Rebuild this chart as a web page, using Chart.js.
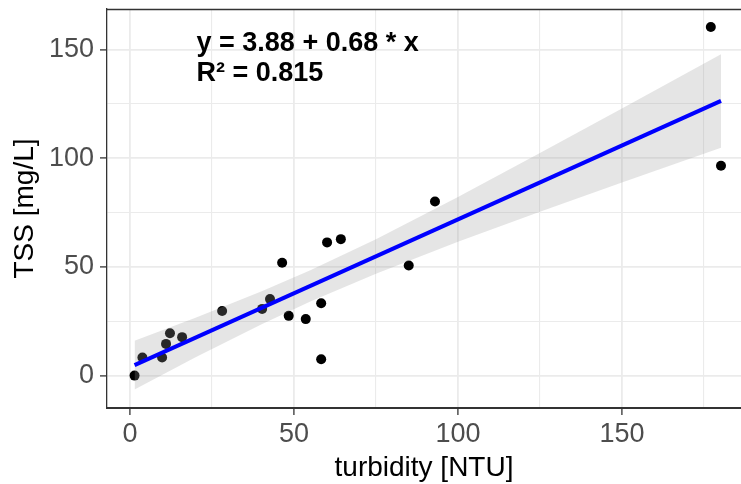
<!DOCTYPE html>
<html>
<head>
<meta charset="utf-8">
<script src="https://cdn.jsdelivr.net/npm/chart.js@4/dist/chart.umd.min.js"></script>
<style>
  html, body { margin: 0; padding: 0; background: #ffffff; overflow: hidden; }
  canvas { display: block; }
</style>
</head>
<body>
<canvas id="chart" width="741" height="484"></canvas>
<script>
// Observations: turbidity (NTU) vs total suspended solids (mg/L)
const turbidity = [1.4, 3.8, 9.8, 11.0, 12.2, 15.9, 28.1, 40.3, 42.7, 46.4,
                   48.4, 53.6, 58.3, 58.3, 60.1, 64.3, 85.0, 93.0, 177.1, 180.2];
const tss       = [0.0, 8.3, 8.3, 14.6, 19.5, 17.7, 29.7, 30.7, 35.2, 51.9,
                   27.5, 26.0, 33.3, 7.5, 61.3, 62.8, 50.7, 80.1, 160.4, 96.6];

// Linear fit as reported in the annotation
const fitIntercept = 3.88;
const fitSlope = 0.68;
const rSquared = 0.815;
const fitX = [1.4, 180.2];

// 95% confidence band of the fit
const bandX     = [1.4, 20, 40, 55, 75, 100, 125, 150, 180.2];
const bandUpper = [16.0, 26.6, 38.7, 48.5, 62.8, 82.2, 102.4, 122.9, 147.9];
const bandLower = [-6.4, 8.4, 23.5, 34.1, 46.9, 61.6, 75.4, 88.9, 104.9];

// Axis ranges and grid positions
const xRange = [-7.0, 186.3];
const yRange = [-14.9, 168.7];
const xGrid = [0, 25, 50, 75, 100, 125, 150, 175];
const yGrid = [0, 25, 50, 75, 100, 125, 150];
const labelStep = 50;

// Equation label anchor (data units)
const eqAnchor = { x: 20.3, y: 149.5 };

const FONT = "'Liberation Sans', Arial, sans-serif";

const pointData = turbidity.map((x, i) => ({ x, y: tss[i] }));
const fitData = fitX.map(x => ({ x, y: fitIntercept + fitSlope * x }));
const upperData = bandX.map((x, i) => ({ x, y: bandUpper[i] }));
const lowerData = bandX.map((x, i) => ({ x, y: bandLower[i] }));

const isMajor = v => v % labelStep === 0;

const panelExtras = {
  id: 'panelExtras',
  beforeDatasetsDraw(chart) {
    const { ctx, chartArea } = chart;
    ctx.save();
    ctx.strokeStyle = '#333333';
    ctx.lineWidth = 1.3;
    ctx.beginPath();
    ctx.moveTo(chartArea.left, chartArea.top + 0.5);
    ctx.lineTo(chartArea.right, chartArea.top + 0.5);
    ctx.stroke();
    ctx.restore();
  },
  afterDraw(chart) {
    const { ctx, scales } = chart;
    const x0 = scales.x.getPixelForValue(eqAnchor.x);
    const y0 = scales.y.getPixelForValue(eqAnchor.y);
    ctx.save();
    ctx.fillStyle = '#000000';
    ctx.font = "bold 27px " + FONT;
    ctx.textAlign = 'left';
    ctx.textBaseline = 'alphabetic';
    ctx.fillText('y = ' + fitIntercept.toFixed(2) + ' + ' + fitSlope.toFixed(2) + ' * x', x0, y0);
    ctx.fillText('R² = ' + rSquared.toFixed(3), x0, y0 + 30.7);
    ctx.restore();
  }
};

new Chart(document.getElementById('chart'), {
  type: 'scatter',
  data: {
    datasets: [
      {
        data: pointData,
        pointRadius: 5,
        pointHoverRadius: 5,
        pointBackgroundColor: '#000000',
        pointBorderWidth: 0,
        showLine: false,
        order: 3
      },
      {
        data: upperData,
        showLine: true,
        pointRadius: 0,
        borderWidth: 0,
        borderColor: 'rgba(0,0,0,0)',
        backgroundColor: 'rgba(153,153,153,0.26)',
        fill: 2,
        tension: 0,
        order: 1
      },
      {
        data: lowerData,
        showLine: true,
        pointRadius: 0,
        borderWidth: 0,
        borderColor: 'rgba(0,0,0,0)',
        fill: false,
        tension: 0,
        order: 2
      },
      {
        data: fitData,
        showLine: true,
        pointRadius: 0,
        borderColor: '#0000ff',
        borderWidth: 4,
        fill: false,
        order: 0
      }
    ]
  },
  options: {
    responsive: false,
    animation: false,
    events: [],
    layout: { autoPadding: false, padding: { top: 9, right: 0, bottom: 0, left: 0 } },
    plugins: {
      legend: { display: false },
      tooltip: { enabled: false }
    },
    scales: {
      x: {
        type: 'linear',
        min: xRange[0],
        max: xRange[1],
        afterBuildTicks: s => { s.ticks = xGrid.map(v => ({ value: v })); },
        afterFit: s => { s.height = 76; s.paddingLeft = 0; s.paddingRight = 0; },
        ticks: {
          autoSkip: false,
          maxRotation: 0,
          padding: 3,
          color: '#4d4d4d',
          font: { family: FONT, size: 27 },
          callback: v => isMajor(v) ? String(v) : ''
        },
        grid: {
          color: '#ebebeb',
          lineWidth: c => (c.tick && isMajor(c.tick.value)) ? 1.8 : 1.1,
          tickColor: c => (c.tick && isMajor(c.tick.value)) ? '#333333' : 'rgba(0,0,0,0)',
          tickLength: 7,
          tickWidth: 1.3
        },
        border: { color: '#333333', width: 2 },
        title: {
          display: true,
          text: 'turbidity [NTU]',
          color: '#000000',
          font: { family: FONT, size: 28, lineHeight: 1.14 },
          padding: 0
        }
      },
      y: {
        type: 'linear',
        min: yRange[0],
        max: yRange[1],
        afterBuildTicks: s => { s.ticks = yGrid.map(v => ({ value: v })); },
        afterFit: s => { s.width = 107; s.paddingTop = 0; s.paddingBottom = 0; },
        ticks: {
          autoSkip: false,
          padding: 6,
          color: '#4d4d4d',
          font: { family: FONT, size: 27 },
          callback: v => isMajor(v) ? String(v) : ''
        },
        grid: {
          color: '#ebebeb',
          lineWidth: c => (c.tick && isMajor(c.tick.value)) ? 1.8 : 1.1,
          tickColor: c => (c.tick && isMajor(c.tick.value)) ? '#333333' : 'rgba(0,0,0,0)',
          tickLength: 7,
          tickWidth: 1.3
        },
        border: { color: '#333333', width: 1.3 },
        title: {
          display: true,
          text: 'TSS [mg/L]',
          color: '#000000',
          font: { family: FONT, size: 28, lineHeight: 1.2 },
          padding: { top: 8, bottom: 0 }
        }
      }
    }
  },
  plugins: [panelExtras]
});
</script>
</body>
</html>
